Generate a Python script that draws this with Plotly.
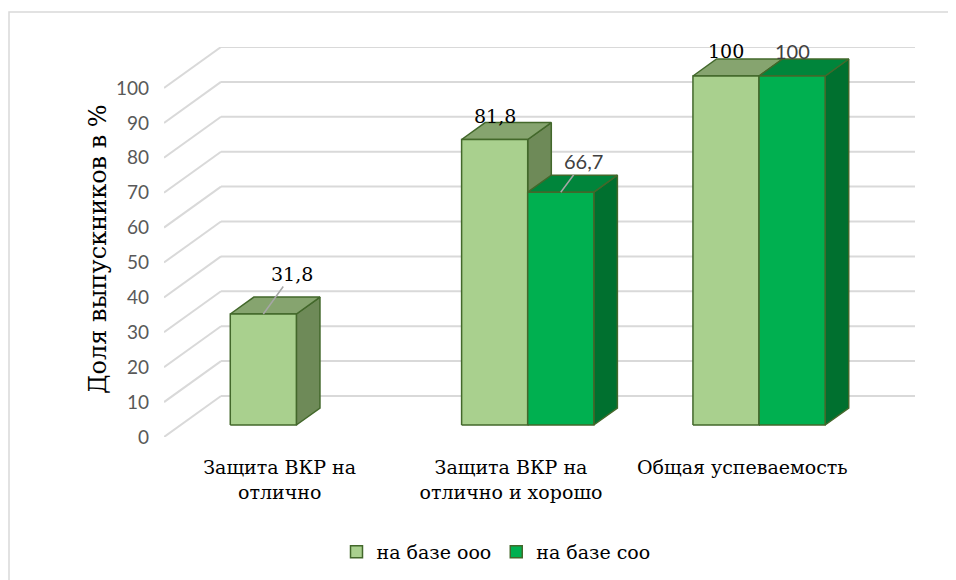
import plotly.graph_objects as go

# ---------------- data ----------------
CATEGORIES = ["Защита ВКР на<br>отлично", "Защита ВКР на<br>отлично и хорошо", "Общая успеваемость"]
SERIES_NAMES = ["на базе ооо", "на базе соо"]
SERIES_OOO = [31.8, 81.8, 100]
SERIES_SOO = [None, 66.7, 100]
LABELS_OOO = ["31,8", "81,8", "100"]
LABELS_SOO = ["", "66,7", "100"]
Y_TICKS = [0, 10, 20, 30, 40, 50, 60, 70, 80, 90, 100]

# ---------------- style / geometry ----------------
W, H = 956, 580
PAGE_OFF = 8  # browser body margin
PL, PR, PT, PB = 164, 915, 47, 437
ML = PL - PAGE_OFF
MT = PT - PAGE_OFF
MR = W - (PR - PAGE_OFF)
MB = H - (PB - PAGE_OFF)
YMAX = 100
DXC = 0.2464      # depth shift in category units (full wall depth)
DYV = 11.75       # depth shift in value units
D0, D1 = 0.293, 0.707
GAP = 1.5
BW = 1.0 / (2 + GAP)

FRONT = ["#A9D08E", "#00B050"]
TOP = ["#86A46F", "#00853B"]
SIDE = ["#6E8A58", "#00702F"]
EDGE = "#43682B"
GRID = "#D9D9D9"
SERIF = "DejaVu Serif"
SANS = "Lato"

OFF_OOO = [(29, -40, True), (0, -24, False), (0, -25, False)]
OFF_SOO = [None, (23, -31, True), (0, -25, False)]


def P(x, v, d):
    return x + d * DXC, v + d * DYV


plot_w = PR - PL
plot_h = PB - PT
XR = [-0.5, len(CATEGORIES) - 0.5 + DXC]
YR = [0, YMAX + DYV]


def px2paper(px, py):
    return (px - PL) / plot_w, (PB - py) / plot_h


fig = go.Figure()

gx, gy = [], []
for v in Y_TICKS:
    a = P(XR[0], v, 1)
    b = P(len(CATEGORIES) - 0.5, v, 1)
    gx += [a[0], b[0], None]
    gy += [a[1], b[1], None]
    c = P(XR[0], v, 0)
    gx += [c[0], a[0], None]
    gy += [c[1], a[1], None]
fig.add_trace(go.Scatter(x=gx, y=gy, mode="lines", line=dict(color=GRID, width=2),
                         hoverinfo="skip", showlegend=False, cliponaxis=False))


def bar_faces(values, s):
    fx, fy, tx, ty, sx, sy = [], [], [], [], [], []
    for i, v in enumerate(values):
        if v is None:
            continue
        xl = i - BW if s == 0 else i
        xr = xl + BW
        front = [P(xl, 0, D0), P(xr, 0, D0), P(xr, v, D0), P(xl, v, D0), P(xl, 0, D0)]
        top = [P(xl, v, D0), P(xr, v, D0), P(xr, v, D1), P(xl, v, D1), P(xl, v, D0)]
        side = [P(xr, 0, D0), P(xr, 0, D1), P(xr, v, D1), P(xr, v, D0), P(xr, 0, D0)]
        for pts, X, Y in ((front, fx, fy), (top, tx, ty), (side, sx, sy)):
            X += [p[0] for p in pts] + [None]
            Y += [p[1] for p in pts] + [None]
    for X, Y, col in ((sx, sy, SIDE[s]), (tx, ty, TOP[s]), (fx, fy, FRONT[s])):
        fig.add_trace(go.Scatter(x=X, y=Y, mode="lines", fill="toself", fillcolor=col,
                                 line=dict(color=EDGE, width=1.5), hoverinfo="skip",
                                 showlegend=False, cliponaxis=False))


bar_faces(SERIES_OOO, 0)
bar_faces(SERIES_SOO, 1)

for s, name in enumerate(SERIES_NAMES):
    fig.add_trace(go.Scatter(x=[None], y=[None], mode="markers", name=name,
                             marker=dict(symbol="square", size=12, color=FRONT[s],
                                         line=dict(color=EDGE, width=1.5))))

annotations = []
for s, (vals, labs, offs) in enumerate(((SERIES_OOO, LABELS_OOO, OFF_OOO),
                                         (SERIES_SOO, LABELS_SOO, OFF_SOO))):
    for i, v in enumerate(vals):
        if v is None:
            continue
        xl = i - BW if s == 0 else i
        ax_, ay_ = P(xl + BW / 2, v, D0)
        ox, oy, leader = offs[i]
        font = dict(family=SERIF, size=19, color="#000000") if s == 0 else \
            dict(family=SANS, size=20, color="#404040")
        if leader:
            annotations.append(dict(x=ax_, y=ay_, xref="x", yref="y", text=labs[i],
                                    showarrow=True, ax=ox, ay=oy, arrowhead=0,
                                    arrowwidth=1.5, arrowcolor="#A6A6A6", standoff=0,
                                    font=font))
        else:
            annotations.append(dict(x=ax_, y=ay_, xref="x", yref="y", text=labs[i],
                                    showarrow=False, xshift=ox, yshift=-oy,
                                    font=font))

tx_, ty_ = px2paper(82, 249)
annotations.append(dict(x=tx_, y=ty_, xref="paper", yref="paper", text="Доля выпускников в %",
                        textangle=-90, showarrow=False,
                        font=dict(family=SERIF, size=24, color="#000000")))

fx0, fy0 = px2paper(9, 12)
fx1, fy1 = px2paper(W + 20, H + 20)
shapes = [dict(type="rect", xref="paper", yref="paper", x0=fx0, y0=fy1, x1=fx1, y1=fy0,
               line=dict(color=GRID, width=1.5), fillcolor="rgba(0,0,0,0)", layer="below")]

lx, ly = px2paper(496, 552)
fig.update_layout(
    width=W, height=H, autosize=False,
    margin=dict(l=ML, r=MR, t=MT, b=MB),
    paper_bgcolor="white", plot_bgcolor="white",
    showlegend=True,
    legend=dict(orientation="h", x=lx, y=ly, xanchor="center", yanchor="middle",
                font=dict(family=SERIF, size=19, color="#000000"),
                itemwidth=30, tracegroupgap=0, bgcolor="rgba(0,0,0,0)"),
    xaxis=dict(range=XR, showgrid=False, zeroline=False, showline=False,
               tickvals=list(range(len(CATEGORIES))), ticktext=CATEGORIES,
               tickfont=dict(family=SERIF, size=19, color="#000000"),
               ticklabelstandoff=17, fixedrange=True),
    yaxis=dict(range=YR, showgrid=False, zeroline=False, showline=False,
               tickvals=Y_TICKS, ticktext=[str(t) for t in Y_TICKS],
               tickfont=dict(family=SANS, size=19, color="#595959"),
               ticklabelstandoff=14, fixedrange=True),
    annotations=annotations, shapes=shapes,
    hovermode=False,
)

fig.write_html("out.html")
